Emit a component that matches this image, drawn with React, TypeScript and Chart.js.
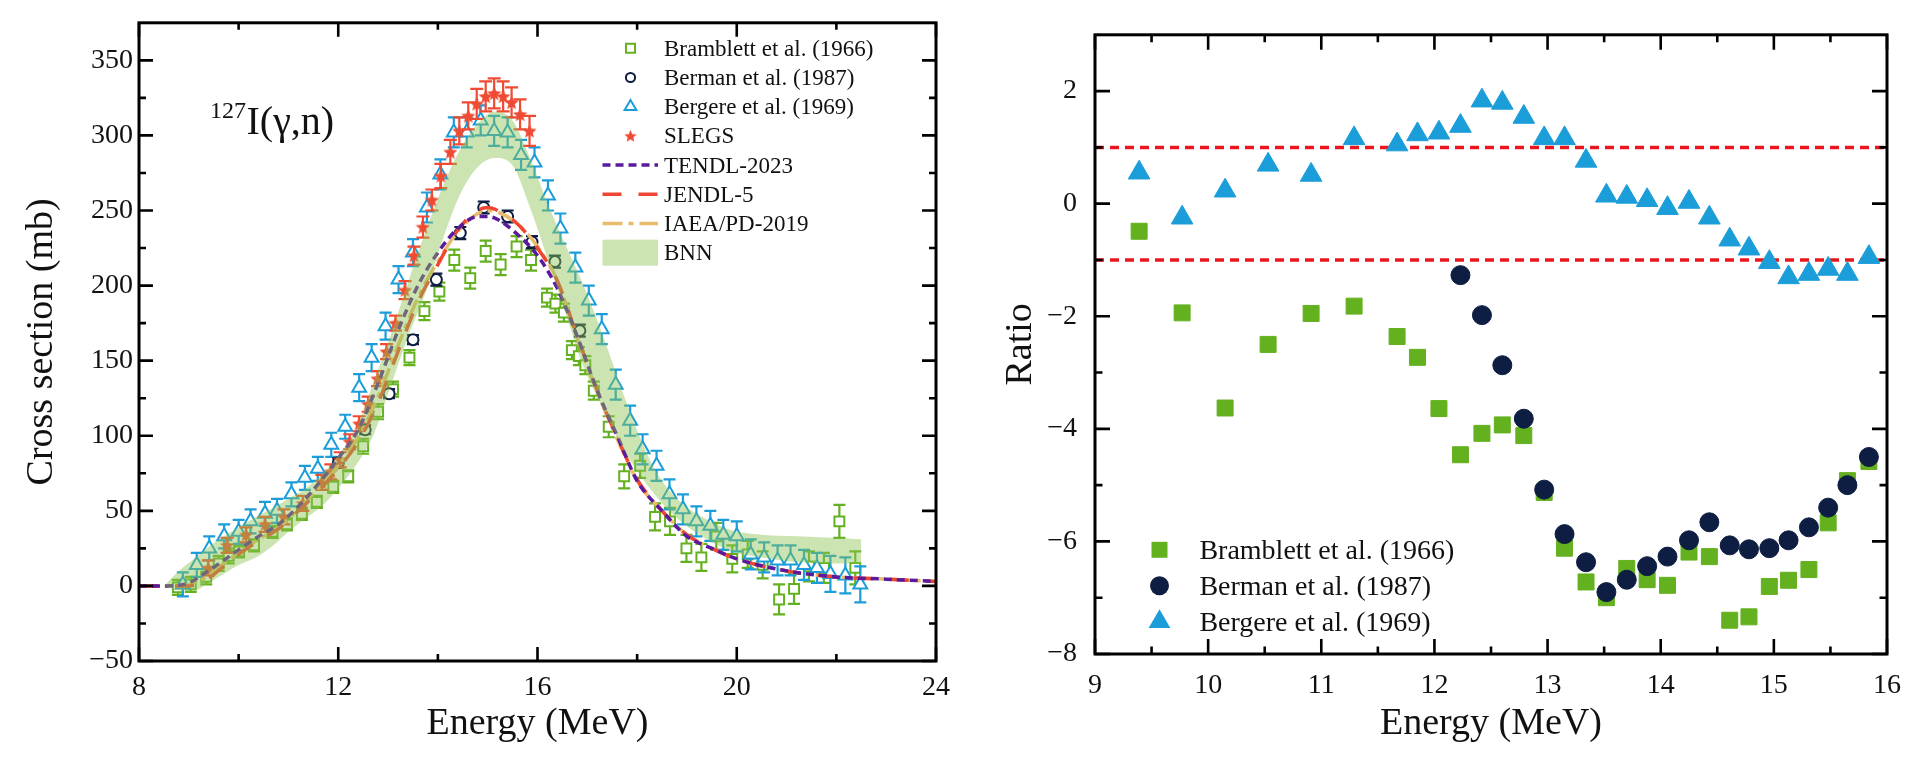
import React, { useEffect, useRef } from 'react';
import { Chart, registerables } from 'chart.js';

Chart.register(...registerables);

const SERIF = '"Liberation Serif", "Times New Roman", Times, serif';

// ---------------- Left panel: 127I(γ,n) cross section (mb) vs energy (MeV) ----------------
const bramblettE = [8.78, 9.04, 9.35, 9.6, 9.8, 10.01, 10.31, 10.68, 10.97, 11.27, 11.57, 11.9, 12.2, 12.5, 12.8, 13.1, 13.43, 13.73, 14.03, 14.33, 14.65, 14.96, 15.26, 15.58, 15.87, 16.19, 16.36, 16.53, 16.69, 16.83, 16.96, 17.13, 17.43, 17.74, 18.06, 18.36, 18.66, 18.99, 19.29, 19.59, 19.91, 20.22, 20.52, 20.85, 21.15, 21.45, 21.75, 22.06, 22.38];
const bramblettXS = [-1, 1, 6, 15, 20, 23, 27, 36, 41, 48, 56, 66, 73, 93, 116, 131, 152, 183, 196, 217, 205, 223, 214, 226, 217, 192, 188, 182, 157, 153, 147, 130, 106, 73, 80, 46, 43, 25, 19, 33, 18, 21, 14, -9, -2, 13, 12, 43, 12];
const bramblettErr = [5, 5, 5, 5, 5, 4, 4, 4, 4, 4, 4, 4, 4, 5, 5, 5, 5, 6, 6, 7, 7, 7, 7, 7, 7, 6, 6, 6, 6, 6, 6, 6, 7, 8, 8, 9, 9, 9, 9, 9, 9, 9, 9, 10, 10, 10, 10, 11, 11];

const bermanE = [12.0, 12.54, 13.02, 13.5, 13.97, 14.45, 14.92, 15.4, 15.89, 16.35, 16.85];
const bermanXS = [82, 104, 128, 164, 204, 235, 252, 246, 229, 216, 170];
const bermanErr = [3, 3, 3, 3, 4, 4, 4, 4, 4, 4, 4];

const bergereE = [8.88, 9.16, 9.41, 9.71, 10.0, 10.24, 10.53, 10.77, 11.06, 11.33, 11.59, 11.86, 12.14, 12.42, 12.67, 12.95, 13.21, 13.5, 13.78, 14.05, 14.32, 14.58, 14.86, 15.13, 15.4, 15.67, 15.94, 16.21, 16.46, 16.76, 17.03, 17.29, 17.57, 17.86, 18.11, 18.39, 18.65, 18.92, 19.19, 19.47, 19.73, 20.0, 20.28, 20.55, 20.82, 21.08, 21.35, 21.61, 21.88, 22.18, 22.48];
const bergereXS = [1, 14, 25, 33, 36, 43, 48, 50, 61, 72, 78, 94, 106, 132, 152, 173, 204, 222, 252, 274, 302, 302, 310, 303, 302, 287, 282, 260, 238, 212, 190, 171, 134, 110, 91, 80, 61, 51, 43, 40, 34, 33, 21, 19, 17, 17, 14, 12, 8, 7, 1];
const bergereErr = [8, 8, 8, 8, 8, 8, 8, 8, 8, 8, 8, 8, 8, 9, 9, 9, 9, 9, 10, 10, 10, 10, 10, 10, 10, 10, 10, 10, 10, 10, 10, 10, 10, 10, 10, 10, 10, 10, 10, 10, 10, 10, 10, 10, 10, 10, 10, 10, 12, 12, 12];

const slegsE = [9.39, 9.77, 10.15, 10.53, 10.91, 11.29, 11.67, 11.85, 12.04, 12.23, 12.42, 12.6, 12.79, 12.97, 13.15, 13.34, 13.52, 13.7, 13.88, 14.06, 14.25, 14.43, 14.61, 14.78, 14.96, 15.13, 15.31, 15.48, 15.65, 15.84];
const slegsXS = [12, 27, 34, 41, 46, 55, 69, 76, 84, 96, 108, 121, 138, 156, 175, 197, 220, 239, 257, 273, 289, 303, 313, 321, 326, 328, 326, 322, 314, 303];
const slegsErr = [5, 5, 5, 5, 5, 5, 5, 5, 5, 5, 5, 5, 5, 5, 5, 6, 6, 7, 7, 8, 8, 9, 9, 10, 10, 10, 10, 10, 10, 10];

const evalE = [8.0, 8.5, 9.0, 9.3, 9.7, 10.0, 10.4, 10.8, 11.2, 11.6, 12.0, 12.4, 12.8, 13.2, 13.6, 14.0, 14.4, 14.8, 15.0, 15.2, 15.6, 16.0, 16.4, 16.8, 17.2, 17.6, 18.0, 18.5, 19.0, 19.5, 20.0, 21.0, 22.0, 23.0, 24.0];
const tendlXS = [0, 0, 2, 8, 17, 24, 33, 41, 53, 68, 85, 104, 135, 170, 200, 222, 238, 246, 246, 244, 234, 220, 198, 166, 130, 100, 70, 50, 33, 25, 18, 10, 6, 4.5, 3];
const jendlXS = [0, 0, 0, 3, 13, 21, 30, 38, 50, 63, 78, 96, 122, 156, 189, 214, 237, 250, 252, 250, 241, 225, 203, 166, 130, 99, 71, 50, 34, 25, 18, 10, 6, 4.5, 3];
const iaeaXS = [0, 0, 1, 5, 15, 22, 31, 39, 51, 65, 80, 99, 126, 160, 192, 216, 236, 248, 250, 249, 241, 226, 203, 165, 129, 98, 70, 50, 34, 25, 18, 10, 6, 4.5, 3];

const bnnE = [8.5, 8.8, 9.1, 9.4, 9.7, 10.0, 10.35, 10.7, 11.0, 11.35, 11.7, 12.0, 12.35, 12.7, 13.05, 13.4, 13.75, 14.1, 14.45, 14.8, 15.15, 15.5, 15.85, 16.2, 16.55, 16.9, 17.3, 17.8, 18.3, 18.8, 19.3, 19.9, 20.5, 21.2, 21.9, 22.5];
const bnnLower = [0, -3, -3, 2, 8, 14, 19, 27, 36, 45, 54, 65, 80, 100, 133, 166, 195, 231, 261, 279, 285, 280, 252, 218, 183, 148, 119, 87, 63, 45, 33, 23, 19, 16, 15, 15];
const bnnUpper = [0, 10, 18, 26, 33, 39, 46, 52, 58, 65, 75, 87, 104, 135, 167, 202, 236, 266, 291, 308, 316, 310, 285, 255, 228, 202, 168, 121, 81, 58, 46, 37, 34, 33, 32, 31];

// ---------------- Right panel: ratios at the SLEGS energies ----------------
const bramblettRatio = [-0.49, -1.94, -3.63, -2.5, -1.95, -1.82, -2.36, -2.73, -3.64, -4.46, -4.08, -3.93, -4.12, -5.13, -6.12, -6.72, -7.0, -6.48, -6.68, -6.78, -6.19, -6.27, -7.4, -7.34, -6.8, -6.69, -6.5, -5.67, -4.92, -4.58];
const bermanRatio = [null, null, null, null, null, null, null, null, null, -1.27, -1.98, -2.87, -3.82, -5.08, -5.87, -6.37, -6.9, -6.68, -6.44, -6.27, -5.98, -5.66, -6.07, -6.14, -6.12, -5.98, -5.75, -5.4, -5.0, -4.5];
const bergereRatio = [0.55, -0.25, 0.23, 0.69, 0.51, 1.16, 1.05, 1.23, 1.26, 1.38, 1.83, 1.79, 1.54, 1.16, 1.16, 0.76, 0.14, 0.12, 0.06, -0.08, 0.03, -0.25, -0.64, -0.8, -1.04, -1.31, -1.25, -1.16, -1.25, -0.95];
const ratioLimits = [1, -1];

// ---------------- Axes ----------------
const leftXRange = [8, 24];
const leftYRange = [-50, 375];
const leftXMajor = [8, 12, 16, 20, 24];
const leftXMinor = [10, 14, 18, 22];
const leftYMajor = [-50, 0, 50, 100, 150, 200, 250, 300, 350];
const leftYMinor = [-25, 25, 75, 125, 175, 225, 275, 325];

const rightXRange = [9, 16];
const rightYRange = [-8, 3];
const rightXMajor = [9, 10, 11, 12, 13, 14, 15, 16];
const rightXMinor = [9.5, 10.5, 11.5, 12.5, 13.5, 14.5, 15.5];
const rightYMajor = [-8, -6, -4, -2, 0, 2];
const rightYMinor = [-7, -5, -3, -1, 1];

// ---------------- Labels ----------------
const LBL_BRAMBLETT = 'Bramblett et al. (1966)';
const LBL_BERMAN = 'Berman et al. (1987)';
const LBL_BERGERE = 'Bergere et al. (1969)';
const LBL_SLEGS = 'SLEGS';
const LBL_TENDL = 'TENDL-2023';
const LBL_JENDL = 'JENDL-5';
const LBL_IAEA = 'IAEA/PD-2019';
const LBL_BNN = 'BNN';

// ---------------- Colours ----------------
const C_GREEN = '#64b11f';
const C_NAVY = '#0e1d42';
const C_BLUE = '#1b9dd9';
const C_RED = '#f04b32';
const C_PURPLE = '#5a1a9e';
const C_JENDL = '#ef4634';
const C_IAEA = '#e9bb6c';
const C_BAND = 'rgba(140,196,82,0.45)';
const C_REF = '#e8171e';

const DASH_TENDL = [8, 5];
const DASH_JENDL = [19, 17];
const DASH_IAEA = [20, 6, 5, 6];

type Pt = { x: number; y: number };
const toPoints = (xs: number[], ys: (number | null)[]): Pt[] =>
  xs.map((x, i) => ({ x, y: ys[i] as number })).filter((p) => p.y !== null && p.y !== undefined);

const fmt = (v: number) => (v < 0 ? '\u2212' + Math.abs(v) : String(v));

function makeStar(size: number, color: string) {
  const c = document.createElement('canvas');
  c.width = size;
  c.height = size;
  const g = c.getContext('2d')!;
  g.fillStyle = color;
  const cx = size / 2, cy = size / 2 + 0.6, R = size / 2, r = R * 0.45;
  g.beginPath();
  for (let i = 0; i < 10; i++) {
    const a = -Math.PI / 2 + (i * Math.PI) / 5;
    const rad = i % 2 === 0 ? R : r;
    g.lineTo(cx + rad * Math.cos(a), cy + rad * Math.sin(a));
  }
  g.closePath();
  g.fill();
  return c;
}

function drawMarker(ctx: CanvasRenderingContext2D, style: string, x: number, y: number, r: number, fill: string | null, stroke: string | null, lw: number, img?: HTMLCanvasElement) {
  ctx.save();
  if (style === 'image' && img) {
    ctx.drawImage(img, x - img.width / 2, y - img.height / 2);
    ctx.restore();
    return;
  }
  ctx.beginPath();
  if (style === 'rect') {
    const s = r * Math.SQRT1_2;
    ctx.rect(x - s, y - s, 2 * s, 2 * s);
  } else if (style === 'circle') {
    ctx.arc(x, y, r, 0, Math.PI * 2);
  } else if (style === 'triangle') {
    let a = 0;
    for (let k = 0; k < 3; k++) {
      ctx.lineTo(x + Math.sin(a) * r, y - Math.cos(a) * r);
      a += (2 * Math.PI) / 3;
    }
    ctx.closePath();
  }
  if (fill) {
    ctx.fillStyle = fill;
    ctx.fill();
  }
  if (stroke && lw > 0) {
    ctx.strokeStyle = stroke;
    ctx.lineWidth = lw;
    ctx.stroke();
  }
  ctx.restore();
}

const errorBarPlugin = {
  id: 'errorBars',
  beforeDatasetDraw(chart: any, args: any) {
    const ds = chart.data.datasets[args.index];
    if (!ds.errBars) return;
    const { errs, color, cap, width } = ds.errBars;
    const xs = chart.scales.x, ys = chart.scales.y, ctx = chart.ctx;
    ctx.save();
    ctx.strokeStyle = color;
    ctx.lineWidth = width;
    ctx.beginPath();
    ds.data.forEach((p: Pt, i: number) => {
      const e = errs[i];
      const x = xs.getPixelForValue(p.x);
      const yt = ys.getPixelForValue(p.y + e);
      const yb = ys.getPixelForValue(p.y - e);
      ctx.moveTo(x, yt);
      ctx.lineTo(x, yb);
      ctx.moveTo(x - cap, yt);
      ctx.lineTo(x + cap, yt);
      ctx.moveTo(x - cap, yb);
      ctx.lineTo(x + cap, yb);
    });
    ctx.stroke();
    ctx.restore();
  },
};

function framePlugin(t: { xMajor: number[]; xMinor: number[]; yMajor: number[]; yMinor: number[]; major: number; minor: number }) {
  return {
    id: 'frame',
    afterDraw(chart: any) {
      const { ctx, chartArea: a } = chart;
      const xs = chart.scales.x, ys = chart.scales.y;
      ctx.save();
      ctx.strokeStyle = '#000';
      ctx.lineWidth = 2.6;
      ctx.beginPath();
      const vt = (vals: number[], len: number) =>
        vals.forEach((v) => {
          const x = xs.getPixelForValue(v);
          ctx.moveTo(x, a.bottom);
          ctx.lineTo(x, a.bottom - len);
          ctx.moveTo(x, a.top);
          ctx.lineTo(x, a.top + len);
        });
      const ht = (vals: number[], len: number) =>
        vals.forEach((v) => {
          const y = ys.getPixelForValue(v);
          ctx.moveTo(a.left, y);
          ctx.lineTo(a.left + len, y);
          ctx.moveTo(a.right, y);
          ctx.lineTo(a.right - len, y);
        });
      vt(t.xMajor, t.major);
      vt(t.xMinor, t.minor);
      ht(t.yMajor, t.major);
      ht(t.yMinor, t.minor);
      ctx.stroke();
      ctx.lineWidth = 3;
      ctx.strokeRect(a.left, a.top, a.right - a.left, a.bottom - a.top);
      ctx.restore();
    },
  };
}

type LegendItem = { kind: 'point' | 'line' | 'box'; style?: string; r?: number; fill?: string | null; stroke?: string | null; lw?: number; img?: HTMLCanvasElement; color?: string; dash?: number[]; label: string };

function legendPlugin(cfg: { items: LegendItem[]; x0: number; y0: number; dy: number; markX: number; lineX1: number; lineX2: number; textX: number; font: number; extra?: (ctx: CanvasRenderingContext2D, chart: any) => void }) {
  return {
    id: 'customLegend',
    afterDraw(chart: any) {
      const ctx: CanvasRenderingContext2D = chart.ctx;
      const a = chart.chartArea;
      ctx.save();
      cfg.items.forEach((it, i) => {
        const y = a.top + cfg.y0 + i * cfg.dy;
        const mx = a.left + cfg.markX;
        if (it.kind === 'point') {
          drawMarker(ctx, it.style!, mx, y, it.r!, it.fill ?? null, it.stroke ?? null, it.lw ?? 0, it.img);
        } else if (it.kind === 'line') {
          ctx.save();
          ctx.strokeStyle = it.color!;
          ctx.lineWidth = 3.5;
          ctx.setLineDash(it.dash!);
          ctx.beginPath();
          ctx.moveTo(a.left + cfg.lineX1, y);
          ctx.lineTo(a.left + cfg.lineX2, y);
          ctx.stroke();
          ctx.restore();
        } else {
          ctx.fillStyle = it.color!;
          ctx.fillRect(a.left + cfg.lineX1, y - 13, cfg.lineX2 - cfg.lineX1, 26);
        }
        ctx.fillStyle = '#111';
        ctx.font = `${cfg.font}px ${SERIF}`;
        ctx.textBaseline = 'alphabetic';
        ctx.textAlign = 'left';
        ctx.fillText(it.label, a.left + cfg.textX, y + cfg.font * 0.33);
      });
      if (cfg.extra) cfg.extra(ctx, chart);
      ctx.restore();
    },
  };
}

const tickFont = { family: SERIF, size: 28 };
const titleFont = { family: SERIF, size: 38 };

function buildLeft(star: HTMLCanvasElement) {
  const markerDs = (label: string, xs: number[], ys: number[], errs: number[], style: any, color: string, r: number, order: number, cap: number, errColor?: string) => ({
    label,
    data: toPoints(xs, ys),
    showLine: false,
    order,
    pointStyle: style,
    pointRadius: r,
    pointBorderColor: color,
    pointBackgroundColor: '#ffffff',
    pointBorderWidth: 2,
    borderColor: color,
    backgroundColor: '#ffffff',
    errBars: { errs, color: errColor || color, cap, width: 2.2 },
  });
  const lineDs = (label: string, ys: number[], color: string, dash: number[], order: number) => ({
    label,
    data: toPoints(evalE, ys),
    borderColor: color,
    borderWidth: 3.5,
    borderDash: dash,
    pointRadius: 0,
    fill: false,
    cubicInterpolationMode: 'monotone',
    order,
  });
  const datasets: any[] = [
    { label: 'BNN-lower', data: toPoints(bnnE, bnnLower), borderWidth: 0, borderColor: 'rgba(0,0,0,0)', pointRadius: 0, fill: false, cubicInterpolationMode: 'monotone', order: 1 },
    { label: LBL_BNN, data: toPoints(bnnE, bnnUpper), borderWidth: 0, borderColor: 'rgba(0,0,0,0)', pointRadius: 0, fill: '-1', backgroundColor: C_BAND, cubicInterpolationMode: 'monotone', order: 0 },
    markerDs(LBL_BRAMBLETT, bramblettE, bramblettXS, bramblettErr, 'rect', C_GREEN, 7, 9, 6),
    markerDs(LBL_BERGERE, bergereE, bergereXS, bergereErr, 'triangle', C_BLUE, 8, 8, 6),
    markerDs(LBL_BERMAN, bermanE, bermanXS, bermanErr, 'circle', C_NAVY, 5.5, 7, 6),
    { ...markerDs(LBL_SLEGS, slegsE, slegsXS, slegsErr, star, C_RED, 7, 6, 6.5), pointBackgroundColor: C_RED },
    lineDs(LBL_IAEA, iaeaXS, C_IAEA, DASH_IAEA, 5),
    lineDs(LBL_JENDL, jendlXS, C_JENDL, DASH_JENDL, 4),
    lineDs(LBL_TENDL, tendlXS, C_PURPLE, DASH_TENDL, 3),
  ];

  const items: LegendItem[] = [
    { kind: 'point', style: 'rect', r: 6.4, fill: '#fff', stroke: C_GREEN, lw: 2, label: LBL_BRAMBLETT },
    { kind: 'point', style: 'circle', r: 4.6, fill: '#fff', stroke: C_NAVY, lw: 2, label: LBL_BERMAN },
    { kind: 'point', style: 'triangle', r: 6.8, fill: '#fff', stroke: C_BLUE, lw: 2, label: LBL_BERGERE },
    { kind: 'point', style: 'image', img: makeStar(13, C_RED), label: LBL_SLEGS },
    { kind: 'line', color: C_PURPLE, dash: DASH_TENDL, label: LBL_TENDL },
    { kind: 'line', color: C_JENDL, dash: DASH_JENDL, label: LBL_JENDL },
    { kind: 'line', color: C_IAEA, dash: DASH_IAEA, label: LBL_IAEA },
    { kind: 'box', color: C_BAND, label: LBL_BNN },
  ];

  return {
    type: 'line',
    data: { datasets },
    options: {
      responsive: false,
      animation: false,
      devicePixelRatio: 1,
      events: [],
      layout: { padding: { left: 0, right: 19, top: 17, bottom: 0 } },
      plugins: { legend: { display: false }, tooltip: { enabled: false } },
      scales: {
        x: {
          type: 'linear',
          min: leftXRange[0],
          max: leftXRange[1],
          grid: { display: false, drawTicks: false },
          border: { display: false },
          afterBuildTicks: (s: any) => { s.ticks = leftXMajor.map((v) => ({ value: v })); },
          afterFit: (s: any) => { s.height = 103; },
          ticks: { font: tickFont, color: '#111', padding: 10, maxRotation: 0, autoSkip: false, callback: (v: any) => fmt(Number(v)) },
          title: { display: true, text: 'Energy (MeV)', font: titleFont, color: '#111', padding: { top: 0, bottom: 17 } },
        },
        y: {
          type: 'linear',
          min: leftYRange[0],
          max: leftYRange[1],
          grid: { display: false, drawTicks: false },
          border: { display: false },
          afterBuildTicks: (s: any) => { s.ticks = leftYMajor.map((v) => ({ value: v })); },
          afterFit: (s: any) => { s.width = 139; },
          ticks: { font: tickFont, color: '#111', padding: 6, autoSkip: false, callback: (v: any) => fmt(Number(v)) },
          title: { display: true, text: 'Cross section (mb)', font: titleFont, color: '#111', padding: { top: 19, bottom: 0 } },
        },
      },
    },
    plugins: [
      errorBarPlugin,
      framePlugin({ xMajor: leftXMajor, xMinor: leftXMinor, yMajor: leftYMajor, yMinor: leftYMinor, major: 14, minor: 7 }),
      legendPlugin({
        items,
        x0: 25.5,
        dy: 29.2,
        y0: 25.5,
        markX: 491.5,
        lineX1: 463.5,
        lineX2: 519,
        textX: 525,
        font: 23,
        extra: (ctx, chart) => {
          const a = chart.chartArea;
          ctx.fillStyle = '#111';
          ctx.textAlign = 'left';
          ctx.textBaseline = 'alphabetic';
          ctx.font = `24px ${SERIF}`;
          ctx.fillText('127', a.left + 71, a.top + 95);
          ctx.font = `40px ${SERIF}`;
          ctx.fillText('I(\u03b3,n)', a.left + 107.5, a.top + 111.5);
        },
      }),
    ],
  };
}

function buildRight() {
  const sc = (label: string, ys: (number | null)[], style: string, color: string, r: number, order: number) => ({
    label,
    data: toPoints(slegsE, ys),
    showLine: false,
    order,
    pointStyle: style,
    pointRadius: r,
    pointBorderColor: color,
    pointBackgroundColor: color,
    pointBorderWidth: 1,
    borderColor: color,
    backgroundColor: color,
  });
  const refDs = ratioLimits.map((lv) => ({
    label: 'limit ' + lv,
    data: [{ x: rightXRange[0], y: lv }, { x: rightXRange[1], y: lv }],
    showLine: true,
    borderColor: C_REF,
    borderWidth: 3.5,
    borderDash: [9, 6],
    pointRadius: 0,
    order: 10,
  }));
  const datasets: any[] = [
    ...refDs,
    sc(LBL_BRAMBLETT, bramblettRatio, 'rect', C_GREEN, 11.3, 3),
    sc(LBL_BERMAN, bermanRatio, 'circle', C_NAVY, 9.5, 2),
    sc(LBL_BERGERE, bergereRatio, 'triangle', C_BLUE, 12.5, 1),
  ];
  const items: LegendItem[] = [
    { kind: 'point', style: 'rect', r: 11.3, fill: C_GREEN, stroke: null, lw: 0, label: LBL_BRAMBLETT },
    { kind: 'point', style: 'circle', r: 9.5, fill: C_NAVY, stroke: null, lw: 0, label: LBL_BERMAN },
    { kind: 'point', style: 'triangle', r: 12.5, fill: C_BLUE, stroke: null, lw: 0, label: LBL_BERGERE },
  ];
  return {
    type: 'scatter',
    data: { datasets },
    options: {
      responsive: false,
      animation: false,
      devicePixelRatio: 1,
      events: [],
      layout: { padding: { left: 0, right: 33, top: 17, bottom: 0 } },
      plugins: { legend: { display: false }, tooltip: { enabled: false } },
      scales: {
        x: {
          type: 'linear',
          min: rightXRange[0],
          max: rightXRange[1],
          grid: { display: false, drawTicks: false },
          border: { display: false },
          afterBuildTicks: (s: any) => { s.ticks = rightXMajor.map((v) => ({ value: v })); },
          afterFit: (s: any) => { s.height = 110; },
          ticks: { font: tickFont, color: '#111', padding: 15, maxRotation: 0, autoSkip: false, callback: (v: any) => fmt(Number(v)) },
          title: { display: true, text: 'Energy (MeV)', font: titleFont, color: '#111', padding: { top: 0, bottom: 17 } },
        },
        y: {
          type: 'linear',
          min: rightYRange[0],
          max: rightYRange[1],
          grid: { display: false, drawTicks: false },
          border: { display: false },
          afterBuildTicks: (s: any) => { s.ticks = rightYMajor.map((v) => ({ value: v })); },
          afterFit: (s: any) => { s.width = 135; },
          ticks: { font: tickFont, color: '#111', padding: 18, autoSkip: false, callback: (v: any) => fmt(Number(v)) },
          title: { display: true, text: 'Ratio', font: titleFont, color: '#111', padding: { top: 38, bottom: 0 } },
        },
      },
    },
    plugins: [
      framePlugin({ xMajor: rightXMajor, xMinor: rightXMinor, yMajor: rightYMajor, yMinor: rightYMinor, major: 15, minor: 7.5 }),
      legendPlugin({ items, x0: 0, y0: 515, dy: 36, markX: 64.5, lineX1: 0, lineX2: 0, textX: 104.4, font: 28 }),
    ],
  };
}

export default function App() {
  const leftRef = useRef<HTMLCanvasElement>(null);
  const rightRef = useRef<HTMLCanvasElement>(null);

  useEffect(() => {
    const star = makeStar(15, C_RED);
    const left = new Chart(leftRef.current!, buildLeft(star) as any);
    const right = new Chart(rightRef.current!, buildRight() as any);
    return () => {
      left.destroy();
      right.destroy();
    };
  }, []);

  return (
    <div style={{ position: 'fixed', left: 0, top: 0, width: 1920, height: 764, background: '#fff', overflow: 'hidden' }}>
      <canvas ref={leftRef} width={960} height={764} style={{ position: 'absolute', left: 0, top: 0, width: 960, height: 764 }} />
      <canvas ref={rightRef} width={960} height={764} style={{ position: 'absolute', left: 960, top: 0, width: 960, height: 764 }} />
    </div>
  );
}
